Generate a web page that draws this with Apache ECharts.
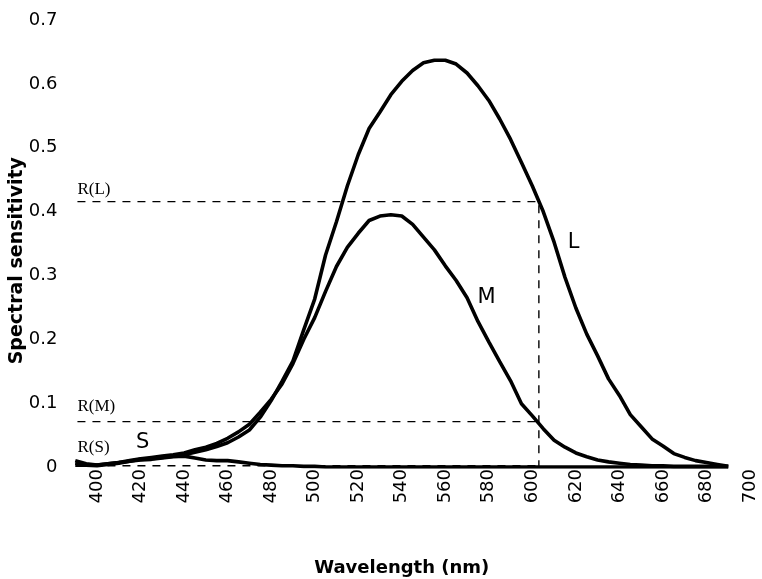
<!DOCTYPE html>
<html>
<head>
<meta charset="utf-8">
<script src="https://cdn.jsdelivr.net/npm/echarts@6/dist/echarts.min.js"></script>
<style>
  html, body { margin: 0; padding: 0; background: #fff; }
  #chart { width: 762px; height: 579px; }
</style>
</head>
<body>
<div id="chart"></div>
<script>
// wavelengths (nm), 5 nm steps
const wavelengths = [390, 395, 400, 405, 410, 415, 420, 425, 430, 435, 440, 445, 450, 455, 460, 465, 470, 475, 480, 485,
  490, 495, 500, 505, 510, 515, 520, 525, 530, 535, 540, 545, 550, 555, 560, 565, 570, 575, 580, 585,
  590, 595, 600, 605, 610, 615, 620, 625, 630, 635, 640, 645, 650, 655, 660, 665, 670, 675, 680, 685, 690]

const lCone = [0.003, 0.003, 0.002, 0.004, 0.006, 0.009, 0.012, 0.013, 0.015, 0.017, 0.019, 0.023, 0.027, 0.032, 0.038, 0.047, 0.058, 0.078, 0.104, 0.134,
  0.166, 0.215, 0.263, 0.332, 0.384, 0.440, 0.489, 0.530, 0.556, 0.583, 0.604, 0.621, 0.633, 0.637, 0.637, 0.631, 0.617, 0.597, 0.574, 0.545,
  0.513, 0.477, 0.440, 0.400, 0.352, 0.297, 0.249, 0.208, 0.174, 0.138, 0.112, 0.082, 0.063, 0.044, 0.033, 0.021, 0.015, 0.010, 0.007, 0.004, 0.001]

const mCone = [0.006, 0.004, 0.003, 0.005, 0.007, 0.010, 0.013, 0.015, 0.017, 0.019, 0.022, 0.027, 0.031, 0.037, 0.045, 0.055, 0.067, 0.086, 0.106, 0.130,
  0.162, 0.200, 0.234, 0.275, 0.314, 0.344, 0.366, 0.386, 0.393, 0.395, 0.393, 0.380, 0.360, 0.340, 0.315, 0.292, 0.265, 0.228, 0.196, 0.165,
  0.135, 0.099, 0.080, 0.060, 0.042, 0.031, 0.022, 0.016, 0.011, 0.008, 0.006, 0.004, 0.003, 0.002, 0.002, 0.001, 0.001, 0.001, 0.001, 0.001, 0.001]

const sCone = [0.010, 0.005, 0.003, 0.005, 0.007, 0.009, 0.011, 0.012, 0.014, 0.016, 0.017, 0.014, 0.011, 0.010, 0.010, 0.008, 0.006, 0.004, 0.003, 0.002,
  0.002, 0.001, 0.001, 0, 0, 0, 0, 0, 0, 0, 0, 0, 0, 0, 0, 0, 0, 0, 0, 0,
  0, 0, 0, 0, 0, 0, 0, 0, 0, 0, 0, 0, 0, 0, 0, 0, 0, 0, 0, 0, 0]

// responses at the chosen wavelength
const probeNm = 603
const refStartNm = 391
const rL = 0.4155
const rM = 0.071
const rS = 0.002

const yTicks = [0, 0.1, 0.2, 0.3, 0.4, 0.5, 0.6, 0.7]

function pairs (ys) {
  return wavelengths.map((w, i) => [w, ys[i]])
}

const curveStyle = { color: '#000', width: 3.6 }
const dashStyle = { color: '#000', width: 1.4, type: [8, 7] }
const sansLabel = { fontFamily: 'DejaVu Sans', fontSize: 21, color: '#000' }
const serifLabel = { fontFamily: 'Liberation Serif', fontSize: 17, color: '#000', align: 'left' }

function textMark (name, coord, style) {
  return {
    coord: coord,
    symbolSize: 0,
    label: Object.assign({ show: true, position: 'inside', formatter: name }, style)
  }
}

let chart = echarts.init(document.getElementById('chart'))
chart.setOption({
  animation: false,
  backgroundColor: '#fff',
  grid: { left: 53.5, right: 12, top: 20, bottom: 112, outerBoundsMode: 'none' },
  xAxis: {
    type: 'value',
    min: 380,
    max: 700,
    interval: 20,
    axisLine: { show: false },
    axisTick: { show: false },
    splitLine: { show: false },
    axisLabel: {
      rotate: 90,
      margin: 2,
      fontFamily: 'DejaVu Sans',
      fontSize: 18,
      color: '#000',
      formatter: v => (v === 380 ? '' : String(v))
    },
    name: 'Wavelength (nm)',
    nameLocation: 'middle',
    nameGap: 92,
    nameTextStyle: { fontFamily: 'DejaVu Sans', fontWeight: 'bold', fontSize: 18, color: '#000' }
  },
  yAxis: {
    type: 'value',
    min: 0,
    max: yTicks[yTicks.length - 1],
    interval: 0.1,
    offset: -12,
    axisLine: { show: false },
    axisTick: { show: false },
    splitLine: { show: false },
    axisLabel: {
      margin: 8,
      fontFamily: 'DejaVu Sans',
      fontSize: 18,
      color: '#000',
      formatter: v => (v === 0 ? '0' : v.toFixed(1))
    }
  },
  graphic: [{
    type: 'text',
    left: 8,
    top: 157,
    rotation: Math.PI / 2,
    style: { text: 'Spectral sensitivity', font: 'bold 19px "DejaVu Sans"', fill: '#000' }
  }],
  series: [
    {
      type: 'line',
      showSymbol: false,
      lineStyle: dashStyle,
      data: [[refStartNm, rL], [probeNm, rL], [probeNm, 0]],
      markPoint: { data: [textMark('R(L)', [refStartNm, rL + 0.019], serifLabel)] }
    },
    {
      type: 'line',
      showSymbol: false,
      lineStyle: dashStyle,
      data: [[refStartNm, rM], [probeNm, rM]],
      markPoint: { data: [textMark('R(M)', [refStartNm, rM + 0.023], serifLabel)] }
    },
    {
      type: 'line',
      showSymbol: false,
      lineStyle: dashStyle,
      data: [[refStartNm, rS], [probeNm, rS]],
      markPoint: { data: [textMark('R(S)', [refStartNm, rS + 0.028], serifLabel)] }
    },
    {
      name: 'S',
      type: 'line',
      showSymbol: false,
      lineStyle: curveStyle,
      data: pairs(sCone),
      markPoint: { data: [textMark('S', [421, 0.038], sansLabel)] }
    },
    {
      name: 'M',
      type: 'line',
      showSymbol: false,
      lineStyle: curveStyle,
      data: pairs(mCone),
      markPoint: { data: [textMark('M', [579, 0.265], sansLabel)] }
    },
    {
      name: 'L',
      type: 'line',
      showSymbol: false,
      lineStyle: curveStyle,
      data: pairs(lCone),
      markPoint: { data: [textMark('L', [619, 0.351], sansLabel)] }
    }
  ]
})
</script>
</body>
</html>
